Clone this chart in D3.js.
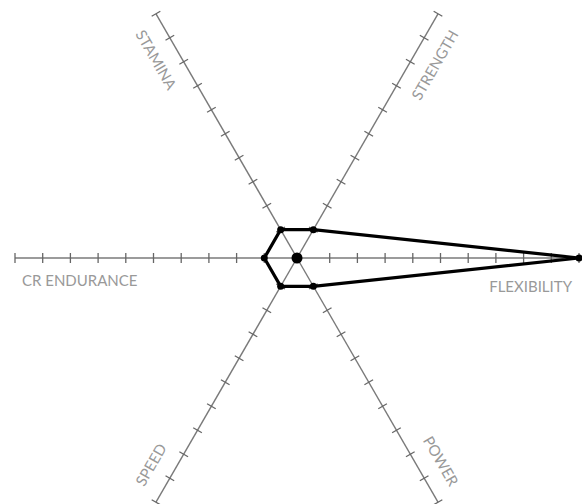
<!DOCTYPE html>
<html>
<head>
<meta charset="utf-8">
<script src="https://cdn.jsdelivr.net/npm/d3@7"></script>
<style>
  html, body { margin: 0; padding: 0; background: #fff; }
  svg { display: block; }
</style>
</head>
<body>
<div id="chart"></div>
<script>
// Axes go counter-clockwise starting from the right
const axes = ["FLEXIBILITY", "STRENGTH", "STAMINA", "CR ENDURANCE", "SPEED", "POWER"];
const axisAngles = [0, 60, 120, 180, 240, 300];
const scores = [10, 1, 1, 1, 1, 1];
const tickValues = [1, 2, 3, 4, 5, 6, 7, 8, 9, 10];

const width = 582, height = 504;
const cx = 297, cy = 258;
const R = 282;

const svg = d3.select("#chart").append("svg")
  .attr("width", width)
  .attr("height", height);

// value -> distance from the centre
const r = d3.scaleLinear().domain([0, 10]).range([5, R]);

function point(angleDeg, dist) {
  const a = angleDeg * Math.PI / 180;
  return [cx + dist * Math.cos(a), cy - dist * Math.sin(a)];
}

// Axis lines
const axisG = svg.append("g").attr("class", "axes");
axes.forEach((name, i) => {
  const end = point(axisAngles[i], r(10));
  axisG.append("line")
    .attr("x1", cx).attr("y1", cy)
    .attr("x2", end[0]).attr("y2", end[1])
    .attr("stroke", "#7a7a7a")
    .attr("stroke-width", 1.4);

  // Ticks, perpendicular to the axis
  const g = axisG.append("g")
    .attr("transform", `translate(${cx},${cy}) rotate(${-axisAngles[i]})`);
  g.selectAll("line.tick")
    .data(tickValues)
    .join("line")
    .attr("class", "tick")
    .attr("x1", d => r(d)).attr("x2", d => r(d))
    .attr("y1", -5).attr("y2", 5)
    .attr("stroke", "#666")
    .attr("stroke-width", 1.3);
});

// Labels, kept readable and placed on the outer side of each axis
const labelG = svg.append("g").attr("class", "labels");
axes.forEach((name, i) => {
  const math = axisAngles[i];
  let screen = -math;
  while (screen <= -90) screen += 360;
  while (screen > 270) screen -= 360;
  let rot = screen, outward = true;
  if (screen > 90) { rot = screen - 180; outward = false; }
  const s = Math.sin(math * Math.PI / 180);
  let gap = name === "FLEXIBILITY" ? 28.5 : 23;
  if (s < -0.1) gap = -gap;
  const p = point(math, 275);
  labelG.append("text")
    .attr("transform", `translate(${p[0]},${p[1]}) rotate(${rot})`)
    .attr("y", gap)
    .attr("dy", "0.36em")
    .attr("text-anchor", outward ? "end" : "start")
    .attr("font-family", "Lato, 'Open Sans', sans-serif")
    .attr("font-size", 15)
    .attr("fill", "#999")
    .text(name);
});

// Score polygon
const pts = scores.map((v, i) => point(axisAngles[i], r(v)));
svg.append("path")
  .attr("d", d3.line().curve(d3.curveLinearClosed)(pts))
  .attr("fill", "none")
  .attr("stroke", "#000")
  .attr("stroke-width", 3.2)
  .attr("stroke-linejoin", "miter");

svg.append("g").selectAll("circle")
  .data(pts)
  .join("circle")
  .attr("cx", d => d[0])
  .attr("cy", d => d[1])
  .attr("r", 3.5)
  .attr("fill", "#000");

// Centre dot
svg.append("circle")
  .attr("cx", cx).attr("cy", cy)
  .attr("r", 5.5)
  .attr("fill", "#000");
</script>
</body>
</html>
